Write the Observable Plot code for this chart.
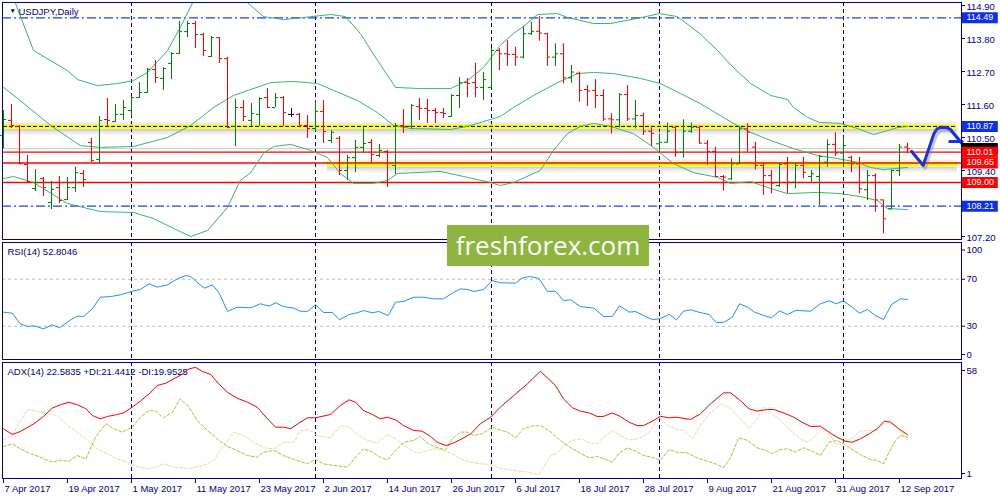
<!DOCTYPE html>
<html><head><meta charset="utf-8">
<script src="https://cdn.jsdelivr.net/npm/d3@7"></script>
<script src="https://cdn.jsdelivr.net/npm/@observablehq/plot@0.6"></script>
<style>
body{margin:0;background:#fff;}
#wrap{position:relative;width:1000px;height:500px;overflow:hidden;background:#fff;}
#wrap svg{display:block;}
#wm{position:absolute;left:447px;top:225px;width:202px;height:41px;background:#8db53f;color:#fff;font-family:'Open Sans',sans-serif;font-size:26px;line-height:40px;text-align:center;}
</style></head><body><div id="wrap"><div id="wm">freshforex.com</div></div>
<script>
// ---------- DATA ----------
const symbolTitle = "USDJPY,Daily";
const rsiTitle = "RSI(14) 52.8046";
const adxTitle = "ADX(14) 22.5835 +DI:21.4412 -DI:19.9525";
const firstBarDate = "2017-04-07";
const dateLabels = ["7 Apr 2017","19 Apr 2017","1 May 2017","11 May 2017","23 May 2017","2 Jun 2017","14 Jun 2017","26 Jun 2017","6 Jul 2017","18 Jul 2017","28 Jul 2017","9 Aug 2017","21 Aug 2017","31 Aug 2017","12 Sep 2017"];

const open = [110.57,111.07,110.87,109.60,108.80,109.13,108.33,108.83,108.43,108.83,
109.30,110.33,109.77,111.10,111.03,111.27,111.40,111.83,112.00,112.77,
112.47,112.97,113.30,114.03,114.30,113.93,113.20,113.83,113.13,110.87,
111.50,111.07,111.27,111.83,111.50,111.83,111.27,111.27,110.90,110.80,
111.37,110.40,110.47,109.40,109.83,110.17,110.33,109.90,110.03,109.57,
110.90,110.87,111.53,111.47,111.40,111.33,111.20,111.90,112.33,112.33,
112.17,112.17,113.40,113.29,113.27,113.18,113.96,114.04,113.96,113.18,
113.29,112.49,112.64,112.10,112.07,111.90,111.12,111.09,111.93,111.12,
111.23,110.71,110.29,110.34,110.84,110.01,110.71,110.84,110.31,110.04,
109.20,109.12,109.62,110.79,110.18,109.57,109.23,108.90,109.62,109.01,
109.57,109.20,109.20,109.68,110.27,109.98,109.84,109.62,108.76,109.23,
108.42,108.12,109.40,110.18];
const high = [111.40,111.60,110.90,109.90,109.43,109.17,109.03,109.20,109.17,109.50,
109.40,110.47,111.20,111.80,111.60,111.73,111.87,112.33,112.80,113.07,
112.83,113.33,114.37,114.37,114.37,113.97,113.87,113.83,113.17,111.77,
111.73,111.63,111.83,112.13,111.97,111.87,111.47,111.30,111.23,111.73,
111.73,110.73,110.53,109.90,110.40,110.83,110.43,110.27,110.07,110.97,
111.43,111.60,111.80,111.77,111.47,111.47,111.93,112.50,112.47,112.97,
112.67,113.47,113.46,113.73,113.51,114.20,114.34,114.53,113.98,113.62,
113.62,112.90,112.68,112.23,112.43,112.09,111.29,111.96,112.23,111.73,
111.31,110.82,110.62,110.98,110.87,111.09,110.98,110.87,110.40,110.18,
109.23,109.79,110.84,110.96,110.34,109.62,109.40,109.64,109.84,109.64,
109.84,109.40,109.90,110.42,110.66,110.51,109.88,109.84,109.40,109.29,
108.42,109.42,110.27,110.31];
const low = [110.13,110.80,109.60,108.97,108.70,108.53,108.10,108.30,108.40,108.67,
108.83,109.67,109.63,110.87,111.00,111.07,111.20,111.80,111.97,112.30,
112.07,112.43,113.27,113.83,113.47,113.20,113.17,112.97,110.80,110.20,
111.03,110.87,110.87,111.50,111.50,110.87,111.17,110.83,110.47,110.70,
110.30,110.30,109.23,109.07,109.33,109.97,109.63,109.83,108.83,109.27,
110.63,110.77,111.07,110.97,110.97,111.13,111.17,111.47,111.83,111.83,
111.73,112.13,112.73,112.87,112.87,113.12,113.90,113.71,112.87,112.87,
112.29,112.31,111.68,111.53,111.46,111.04,110.62,110.82,111.04,110.79,
110.57,110.20,109.96,110.31,109.84,109.82,110.64,110.29,109.57,109.20,
108.71,109.07,109.60,110.01,109.42,108.57,108.62,108.84,108.62,108.79,
109.12,109.01,108.23,109.51,109.87,109.53,109.33,108.62,108.40,108.01,
107.29,108.09,109.20,109.96];
const close = [111.10,110.90,109.62,109.03,109.00,108.83,108.77,108.40,108.83,109.33,
109.10,109.73,111.07,111.07,111.27,111.50,111.83,112.00,112.77,112.50,
112.80,113.30,114.03,114.30,113.93,113.40,113.83,113.13,110.83,111.50,
111.20,111.30,111.80,111.50,111.83,111.33,111.27,110.90,110.80,111.37,
110.70,110.67,109.40,109.83,110.17,110.30,109.93,110.07,109.00,110.90,
110.87,111.57,111.47,111.40,111.33,111.30,111.90,112.33,112.30,112.17,
112.43,113.40,113.29,113.27,113.18,113.96,114.04,113.98,113.18,113.29,
112.49,112.68,112.07,112.05,111.90,111.12,111.09,111.93,111.12,111.23,
110.71,110.64,110.34,110.71,110.01,110.71,110.84,110.31,110.04,109.20,
109.18,109.62,110.79,110.68,109.57,109.23,108.98,109.60,109.01,109.57,
109.34,109.29,109.87,110.27,109.98,110.23,109.62,108.79,109.23,108.42,
107.79,109.40,110.18,110.12];

// Bollinger bands: [bar index, price]
const bbUpper = [[0,115.4],[1.5,114.97],[3.75,113.40],[8,112.73],[9.25,112.43],[11.75,112.23],[14.25,112.30],[16.25,112.40],[18,112.67],[20.5,113.40],[22.1,114.17],[23.6,114.97],[25,115.4],[27,115.6],[29,115.4],[30.9,114.90],[32.5,114.53],[35,114.43],[37.5,114.50],[40.9,114.60],[42.75,114.53],[44.6,113.97],[46.75,113.07],[49,112.17],[52.1,112.13],[55.9,112.13],[58,112.40],[60,112.83],[62.1,113.57],[63.75,113.97],[65,114.20],[66.75,114.60],[69.25,114.63],[70.5,114.50],[73.75,114.30],[75.9,114.30],[79.25,114.47],[82,114.63],[84.25,114.53],[87,113.97],[89.25,113.40],[91.25,112.83],[93.4,112.30],[95.9,111.90],[98,111.77],[98.75,111.50],[100.5,111.17],[102,111.00],[104.6,110.97],[106.75,110.80],[108.75,110.60],[110.5,110.73],[111.75,110.83],[113,110.87]];
const bbMiddle = [[0,112.17],[2.1,111.73],[5.9,110.90],[9.6,110.23],[12.1,110.17],[16.25,110.20],[20.5,110.50],[23.4,110.90],[26.25,111.50],[28.75,111.90],[30.9,112.10],[33.4,112.33],[36.25,112.37],[39.25,112.30],[41.25,112.07],[44.25,111.73],[46.75,111.33],[48.75,110.90],[50.9,110.80],[55.9,110.77],[58,110.87],[62.1,111.20],[63.75,111.50],[66.25,111.90],[69.25,112.33],[71.75,112.63],[73.75,112.67],[76.25,112.63],[79.6,112.47],[82.1,112.30],[84.6,111.97],[87.1,111.63],[89.6,111.23],[91.25,110.97],[93.4,110.67],[95.9,110.40],[98.75,110.13],[101.75,109.90],[104.25,109.80],[106.75,109.67],[108.4,109.50],[110,109.43],[113,109.50]];
const bbLower = [[0,109.13],[1.25,109.20],[3.75,109.00],[8,108.30],[12.1,108.03],[16.25,108.00],[18.75,107.80],[21.25,107.47],[23.4,107.20],[25.5,107.40],[28,108.17],[29.6,109.07],[30.9,109.33],[32.5,109.97],[33.75,110.20],[35.9,110.27],[38.4,110.07],[40.5,109.83],[42.1,109.30],[43.75,108.97],[46.25,108.97],[48,109.07],[49.25,109.30],[54.6,109.37],[57.5,109.20],[60.9,109.00],[62.1,108.90],[63.75,109.00],[67.1,109.40],[68.75,110.07],[70.5,110.63],[72.1,110.87],[73.75,110.97],[75.9,110.87],[78.75,110.63],[81.25,110.17],[83.75,109.63],[86.25,109.33],[89.25,109.17],[90.9,108.97],[93.4,109.03],[95.9,108.80],[98,108.63],[101.75,108.67],[104.6,108.63],[107.1,108.53],[109.25,108.40],[110.5,108.13],[113,108.10]];

// Horizontal levels
const blueLevels = [114.49, 108.21];
const redLevels = [110.01, 109.65, 109.00];
const bidPrice = 110.13;
const yellowBands = [{p: 110.87, from: 0, dashed: true}, {p: 109.62, from: 40.5, dashed: false}];
const priceTicks = [114.90, 113.80, 112.70, 111.60, 110.50, 109.40, 108.30, 107.20];
const priceTags = [114.49, 110.87, 110.01, 109.65, 109.00, 108.21];
const priceTagKind = ["blue", "blue", "red", "red", "red", "blue"];

// Hand-drawn forecast arrow: [bar index, price]
const arrowPath = [[113.5,110.04],[114.96,109.57],[116.29,110.62],[116.7,110.79],[117.2,110.84],[117.9,110.83],[118.4,110.76],[119.84,110.29]];
const arrowHead = [[118.29,110.37],[119.84,110.37]];

// RSI(14): [bar index, value]
const rsiLevels = [70, 30];
const rsiTicks = [100, 70, 30, 0];
const rsi = [[0,42.0],[1.1,41.1],[2.1,32.1],[3,29.8],[3.8,30.4],[5,27.8],[6.1,31.2],[7,28.7],[8.4,35.5],[9.2,38.6],[10,38.3],[11.1,44.8],[12.1,54.7],[13.4,55.3],[14.6,56.7],[16.1,59.8],[17.1,61.3],[18.2,66.1],[19.2,63.3],[20.5,65.2],[21.7,70.3],[22.8,73.2],[23.4,72.3],[24.2,67.5],[25.1,62.4],[26.1,65.2],[26.9,59.0],[28,42.6],[29.2,46.2],[30.9,45.7],[32.1,49.1],[33.2,47.1],[34,50.0],[35,46.8],[36.3,45.4],[37.1,42.8],[38,42.6],[39,48.3],[40,41.7],[41.1,41.7],[42,35.5],[43.2,40.0],[44.2,41.4],[45,43.4],[46.1,41.4],[46.9,42.6],[48.1,39.1],[49,50.5],[50,51.1],[51.3,54.7],[52.5,54.7],[53.8,53.3],[55,53.3],[56.3,59.0],[57.1,61.8],[58,61.3],[58.8,59.6],[60,61.3],[61.1,68.9],[62.1,67.0],[64,66.7],[64.8,70.9],[65.7,72.3],[66.9,70.9],[68,59.6],[69,59.8],[70,51.9],[70.9,52.5],[72.1,46.8],[73.8,45.4],[75,38.3],[76.1,38.3],[77,47.4],[78.2,42.0],[79,42.6],[80,39.1],[81.1,35.7],[82,36.3],[83.2,40.0],[84.1,35.5],[85,42.8],[85.9,44.0],[86.9,42.0],[88.2,40.0],[89.1,33.2],[90.1,33.5],[91.1,37.7],[92,49.1],[93,46.2],[93.9,42.0],[95,39.1],[96,37.2],[97,43.1],[98,40.0],[99.1,43.7],[100,43.1],[100.9,42.8],[102.1,49.1],[103.2,51.6],[104.1,49.1],[105,51.6],[106.1,46.2],[107,41.1],[108,44.3],[109,39.1],[110,35.7],[111,48.5],[112.1,53.3],[113,52.8]];

// ADX(14), +DI, -DI: [bar index, value]
const adxTicks = [58, 1];
const adx = [[0,25.6],[1.1,22.7],[2.1,24.2],[3.8,28.1],[5,31.8],[6.1,36.0],[7.1,37.7],[8.2,39.0],[9.2,37.7],[10.3,35.7],[11.1,32.3],[12.1,30.6],[13,31.8],[14,32.6],[15,33.6],[16.1,36.5],[17.1,39.5],[18.2,43.2],[19.2,47.4],[20.3,48.6],[21.3,50.8],[22.3,53.0],[23.2,55.8],[24,56.6],[24.8,54.6],[25.9,53.0],[26.9,48.3],[28,44.0],[29.2,41.0],[30.5,39.0],[31.7,36.5],[33,30.6],[34,26.4],[35,26.4],[35.9,25.6],[36.9,28.4],[38,31.1],[39,31.1],[40.9,32.8],[42.1,37.3],[43.2,40.2],[44,39.0],[45,34.8],[46.1,32.8],[47.1,30.6],[48,31.4],[49,30.1],[50,27.2],[51.3,24.7],[52.3,24.4],[53.4,21.7],[54.2,18.8],[55.3,17.1],[56.3,18.5],[57.3,20.5],[58.4,23.0],[59.6,28.1],[60.9,31.4],[62.1,36.5],[63.8,42.4],[65.5,48.3],[67.1,54.6],[69,47.4],[70,40.7],[71.1,36.2],[72.1,34.5],[73.2,33.6],[74.2,31.8],[75,31.8],[76.1,33.6],[77.1,31.8],[78.2,28.9],[79.2,27.2],[80,27.2],[81.1,29.4],[82.1,31.9],[83.2,31.1],[84.2,31.4],[85.9,30.3],[87.1,33.1],[88.4,38.2],[90,43.7],[90.9,43.7],[92.1,39.8],[93.2,35.7],[94.2,34.5],[95.5,35.3],[96.3,35.3],[97.5,33.6],[98.8,31.4],[99.8,28.9],[100.9,26.7],[102.1,26.9],[103.2,23.9],[104.2,21.3],[105.3,19.2],[106.1,18.8],[107.1,20.5],[108.2,23.0],[109.2,25.6],[110.1,29.4],[110.9,28.9],[111.9,25.6],[113,22.6]];
const plusDI = [[0,16.6],[1.1,18.0],[2.1,15.5],[3.4,13.0],[4.8,10.9],[6.1,8.7],[7.1,9.6],[8.2,9.2],[9.2,12.1],[10.3,10.4],[11.5,21.3],[12.8,28.1],[13.8,25.6],[14.8,23.9],[16.1,26.4],[17.1,31.4],[18.2,34.8],[19,34.5],[20,31.1],[21.1,33.9],[22.1,40.7],[23.2,36.5],[24.2,29.8],[25.5,24.7],[26.7,20.5],[28,16.6],[29.2,14.6],[30.5,12.1],[31.7,11.2],[32.5,13.8],[33.8,14.6],[35,12.1],[36.3,10.1],[38,7.9],[39,10.1],[40,7.9],[41.3,7.1],[43,6.2],[44,11.2],[45,15.5],[46.1,13.8],[47.1,11.2],[48,9.9],[49,14.6],[50,18.8],[51.3,19.7],[52.1,21.7],[53,18.3],[54.2,16.0],[55.3,15.0],[56.1,20.5],[57.1,23.9],[58,23.9],[58.8,22.2],[59.8,23.0],[61.1,26.4],[62.1,24.9],[63,23.9],[64,21.0],[65,25.6],[66.3,27.2],[67.3,26.9],[68.4,23.9],[69.6,19.7],[70.9,16.0],[72.1,13.3],[73.2,10.9],[74.2,11.6],[75.3,10.1],[76.1,8.7],[77,13.4],[78,16.0],[79,14.3],[80,12.1],[81.1,11.2],[82.1,9.6],[83.2,15.0],[84.2,13.8],[85.5,13.3],[86.7,10.9],[88,9.2],[89,7.9],[90,5.9],[90.9,11.2],[91.9,21.0],[93,19.7],[94.2,16.0],[95.5,14.3],[96.1,13.0],[97,15.0],[98,15.5],[99,13.8],[100,16.0],[101.1,14.3],[102.1,12.1],[103.2,18.8],[104.2,19.7],[105,18.0],[106.3,14.6],[107.3,12.1],[108.4,10.1],[109.2,9.6],[110,7.9],[110.7,13.8],[111.5,19.7],[112.1,22.2],[113,21.4]];
const minusDI = [[0,20.0],[1.1,22.2],[1.9,28.1],[3,35.2],[4.2,34.5],[5.5,33.1],[6.7,32.3],[8,27.2],[9.2,23.9],[10.5,19.7],[11.7,15.5],[13,13.0],[14.2,10.4],[15.5,8.7],[16.7,6.5],[18,5.4],[19,6.2],[20,7.9],[21.3,6.2],[22.3,5.9],[23.2,5.4],[24.2,6.5],[25,7.1],[26.3,9.6],[27.3,16.0],[28.8,23.9],[30,22.2],[31.3,18.8],[32.5,16.0],[33.8,15.5],[35,18.8],[36.3,18.8],[37.1,24.7],[38.2,25.1],[39.2,22.2],[40.9,21.0],[42.1,27.2],[43.2,26.4],[44.4,22.2],[45.5,19.7],[46.7,18.3],[48,22.7],[49,20.5],[50.3,16.6],[51.7,13.3],[52.8,14.3],[53.8,15.5],[55,14.6],[56.1,13.0],[57.1,10.4],[58.4,8.7],[59.6,7.9],[60.9,7.6],[62.1,5.6],[63.8,4.5],[65.5,3.7],[66.9,2.5],[67.5,6.2],[68.4,12.1],[69.2,13.0],[70,17.1],[71.1,19.7],[72.3,20.5],[73,18.8],[74.2,18.0],[75,21.3],[76.1,24.4],[77.1,22.2],[78.2,20.0],[79.2,20.5],[80,21.7],[80.9,24.7],[81.9,31.4],[83,27.2],[84,25.6],[85,24.7],[86.1,20.5],[87.1,27.2],[88.4,34.0],[89.8,38.2],[90.9,35.7],[92.1,30.6],[93.2,25.6],[94.2,30.6],[95,36.8],[95.9,34.0],[97.1,29.8],[98.4,24.7],[99.6,20.5],[100.5,18.8],[101.3,21.3],[102.3,25.6],[103.2,23.0],[104,18.0],[105,18.8],[106.1,21.0],[107.1,24.4],[108.2,24.7],[109.2,24.7],[110.3,29.4],[111.1,28.1],[112.1,24.7],[113,20.0]];

// ---------- DERIVED ----------
const N = open.length;
const bars = d3.range(N).map(i => ({i, o: open[i], h: high[i], l: low[i], c: close[i]}));
const barColor = d => d.c > d.o ? "#008000" : d.c < d.o ? "#ff0000" : "#000000";
const barDates = [];
for (let d = new Date(firstBarDate + "T00:00:00Z"); barDates.length < N; d = new Date(d.getTime() + 864e5)) {
  const wd = d.getUTCDay();
  if (wd !== 0 && wd !== 6) barDates.push(d);
}
const fmt = d3.utcFormat("%-d %b %Y");
const dateTicks = dateLabels.map(s => ({label: s, i: barDates.findIndex(d => fmt(d) === s)}));
const monthStarts = d3.range(1, N).filter(i => barDates[i].getUTCMonth() !== barDates[i-1].getUTCMonth());
// axis labels hidden behind a price tag in the terminal
const visibleTicks = priceTicks.filter(t => !priceTags.some(p => Math.abs(p - t) < 0.15));

// ---------- STYLE ----------
const navy = "#000080";
const fontFam = "'Liberation Sans', Arial, sans-serif";
const FS = 9.5;
const xDom = [-0.125, 119.75];
const xMax = xDom[1];
const bandEnd = 119.25;
const tagColor = {blue: "#0f2ee8", red: "#ff0000"};
const st = {fontFamily: fontFam, fontSize: FS + "px", overflow: "visible", background: "transparent"};
const sep = () => Plot.ruleX(monthStarts, {stroke: navy, strokeDasharray: "4,3", strokeWidth: 1});
const frame = () => Plot.frame({stroke: navy, strokeWidth: 1});
const shadowSteps = [[3.5, 0.22], [5.5, 0.12], [7.5, 0.06], [-3.5, 0.07]];

// ---------- MAIN PANEL ----------
const main = Plot.plot({
  width: 1000, height: 240, marginTop: 2, marginBottom: 1, marginLeft: 2, marginRight: 39,
  x: {domain: xDom, axis: null},
  y: {domain: [107.1, 115.0], axis: null},
  style: st,
  marks: [
    sep(),
    ...shadowSteps.map(([dy, op]) => Plot.ruleY(yellowBands, {y: "p", x1: "from", x2: () => bandEnd, stroke: "#303030", strokeOpacity: op, strokeWidth: 2, dy})),
    Plot.ruleY(yellowBands, {y: "p", x1: "from", x2: () => bandEnd, stroke: "#ffff00", strokeWidth: 4.5}),
    Plot.ruleY(yellowBands.filter(d => d.dashed), {y: "p", x1: "from", x2: () => bandEnd, stroke: "#000", strokeDasharray: "4,2", strokeWidth: 1}),
    Plot.ruleY([bidPrice], {stroke: "#c8c8c8", strokeWidth: 1}),
    Plot.ruleY(blueLevels, {stroke: "#1f3fe0", strokeWidth: 1.3, strokeDasharray: "9,3,2,3"}),
    Plot.ruleY(redLevels, {stroke: "#ff0000", strokeWidth: 1.3}),
    Plot.line(bbUpper, {x: d => d[0], y: d => d[1], stroke: "#3cb371", strokeWidth: 1, clip: true}),
    Plot.line(bbMiddle, {x: d => d[0], y: d => d[1], stroke: "#3cb371", strokeWidth: 1, clip: true}),
    Plot.line(bbLower, {x: d => d[0], y: d => d[1], stroke: "#3cb371", strokeWidth: 1, clip: true}),
    Plot.ruleX(bars, {x: "i", y1: "l", y2: "h", stroke: barColor, strokeWidth: 1}),
    Plot.ruleY(bars, {y: "o", x1: d => d.i - 0.375, x2: "i", stroke: barColor, strokeWidth: 1}),
    Plot.ruleY(bars, {y: "c", x1: "i", x2: d => d.i + 0.375, stroke: barColor, strokeWidth: 1}),
    Plot.line(arrowPath, {x: d => d[0], y: d => d[1], stroke: "#707070", strokeOpacity: 0.35, strokeWidth: 3, dx: 2, dy: 3, strokeLinejoin: "round"}),
    Plot.line(arrowPath, {x: d => d[0], y: d => d[1], stroke: "#1432e6", strokeWidth: 3, strokeLinejoin: "round", strokeLinecap: "round"}),
    Plot.line(arrowHead, {x: d => d[0], y: d => d[1], stroke: "#1432e6", strokeWidth: 3, strokeLinecap: "round"}),
    frame(),
    Plot.ruleY(priceTicks, {x1: () => xMax, x2: () => xMax + 0.5, stroke: navy}),
    Plot.text(visibleTicks, {y: d => d, frameAnchor: "right", text: d => d.toFixed(2), dx: 5, dy: 1, textAnchor: "start", lineAnchor: "middle", fill: navy, fontSize: FS}),
    // current bid tag, mostly covered by the 110.01 tag
    Plot.ruleY([bidPrice], {x1: () => xMax + 0.1, x2: () => xMax + 4.6, stroke: "#000000", strokeWidth: 11}),
    Plot.ruleY(priceTags, {x1: () => xMax + 0.1, x2: () => xMax + 4.6, stroke: (d, i) => tagColor[priceTagKind[i]], strokeWidth: 11}),
    Plot.text(priceTags, {y: d => d, frameAnchor: "right", text: d => d.toFixed(2), dx: 5, dy: -0.5, textAnchor: "start", lineAnchor: "middle", fill: "#ffffff", fontSize: 9}),
    Plot.text([symbolTitle], {frameAnchor: "top-left", dx: 16, dy: 9, text: d => d, textAnchor: "start", lineAnchor: "middle", fill: navy, fontSize: FS}),
    Plot.text(["\u25BC"], {frameAnchor: "top-left", dx: 7, dy: 8.5, text: d => d, textAnchor: "start", lineAnchor: "middle", fill: "#000040", fontSize: 6.5})
  ]
});

// ---------- RSI PANEL ----------
const rsiTickGroups = [
  {vals: rsiTicks.filter(v => v === 100), dy: 6},
  {vals: rsiTicks.filter(v => v !== 100 && v !== 0), dy: 0},
  {vals: rsiTicks.filter(v => v === 0), dy: -7}
];
const rsiPlot = Plot.plot({
  width: 1000, height: 120, marginTop: 2, marginBottom: 1, marginLeft: 2, marginRight: 39,
  x: {domain: xDom, axis: null},
  y: {domain: [1.70, 101.28], axis: null},
  style: st,
  marks: [
    sep(),
    Plot.ruleY(rsiLevels, {stroke: "#c0c0c0", strokeDasharray: "3,3", strokeWidth: 1}),
    Plot.line(rsi, {x: d => d[0], y: d => d[1], stroke: "#1e90ff", strokeWidth: 1}),
    frame(),
    ...rsiTickGroups.flatMap(g => [
      Plot.ruleY(g.vals, {x1: () => xMax, x2: () => xMax + 0.5, stroke: navy, dy: g.dy}),
      Plot.text(g.vals, {y: d => d, frameAnchor: "right", text: d => String(d), dx: 5, dy: g.dy, textAnchor: "start", lineAnchor: "middle", fill: navy, fontSize: FS})
    ]),
    Plot.text([rsiTitle], {frameAnchor: "top-left", dx: 5, dy: 9.5, text: d => d, textAnchor: "start", lineAnchor: "middle", fill: navy, fontSize: FS})
  ]
});

// ---------- ADX PANEL ----------
const adxDom = [0.4955, 59.02];
const adxTickGroups = [
  {vals: adxTicks.filter(v => v === d3.max(adxTicks)), dy: 6},
  {vals: adxTicks.filter(v => v === d3.min(adxTicks)), dy: -4}
];
const adxPlot = Plot.plot({
  width: 1000, height: 140, marginTop: 2, marginBottom: 22, marginLeft: 2, marginRight: 39,
  x: {domain: xDom, axis: null},
  y: {domain: adxDom, axis: null},
  style: st,
  marks: [
    sep(),
    Plot.line(minusDI, {x: d => d[0], y: d => d[1], stroke: "#f5d6a8", strokeWidth: 1, strokeDasharray: "3,2"}),
    Plot.line(plusDI, {x: d => d[0], y: d => d[1], stroke: "#9acd32", strokeWidth: 1, strokeDasharray: "3,2"}),
    Plot.line(adx, {x: d => d[0], y: d => d[1], stroke: "#ff0000", strokeWidth: 1}),
    frame(),
    ...adxTickGroups.flatMap(g => [
      Plot.ruleY(g.vals, {x1: () => xMax, x2: () => xMax + 0.5, stroke: navy, dy: g.dy}),
      Plot.text(g.vals, {y: d => d, frameAnchor: "right", text: d => String(d), dx: 5, dy: g.dy, textAnchor: "start", lineAnchor: "middle", fill: navy, fontSize: FS})
    ]),
    Plot.ruleX(dateTicks, {x: "i", y1: () => adxDom[0], y2: () => adxDom[0] - 2.5, stroke: navy}),
    Plot.text(dateTicks, {x: "i", frameAnchor: "bottom", text: "label", dx: 1, dy: 10, textAnchor: "start", lineAnchor: "middle", fill: navy, fontSize: FS}),
    Plot.text([adxTitle], {frameAnchor: "top-left", dx: 5, dy: 9.5, text: d => d, textAnchor: "start", lineAnchor: "middle", fill: navy, fontSize: FS})
  ]
});

const wrap = document.getElementById("wrap");
const wm = document.getElementById("wm");
wrap.insertBefore(main, wm);
wrap.insertBefore(rsiPlot, wm);
wrap.insertBefore(adxPlot, wm);
</script></body></html>
